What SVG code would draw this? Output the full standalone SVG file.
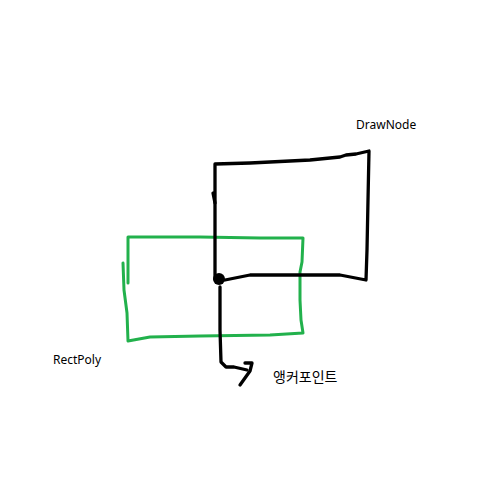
<svg xmlns="http://www.w3.org/2000/svg" width="500" height="500" viewBox="0 0 500 500">
<style>
.blk{fill:none;stroke:#000;stroke-width:3.3;stroke-linecap:round;stroke-linejoin:round}
.grn{fill:none;stroke:#22b14c;stroke-width:3;stroke-linecap:round;stroke-linejoin:round}
.lbl{font-family:"Noto Sans","Open Sans",sans-serif;font-size:12px;fill:#000}
.ko{font-family:"Noto Sans CJK KR",sans-serif;font-size:14px;fill:#000}
</style>
<rect width="500" height="500" fill="#fff"/>
<g id="rectpoly">
<path class="grn" d="M128,283 L128,237 L200,237 L260,238 L303,238 L302,262 L300,272 L300,300 L301,320 L303,333 L270,335 L200,336 L150,337 L128,341 L127,313 L124,290 L123,263"/>
<text class="lbl" x="53" y="364">RectPoly</text>
</g>
<g id="drawnode">
<path class="blk" d="M215,279 L215,164 L250,163 L310,160 L340,157 L346,155 L356,154 L369,151 L368,200 L367,250 L366,280 L340,275 L250,275 L225,280"/>
<path class="blk" d="M213,193 L215,203"/>
<text class="lbl" x="356" y="129">DrawNode</text>
</g>
<g id="anchor">
<circle cx="219" cy="279" r="6" fill="#000"/>
<text class="ko" x="273" y="382">앵커포인트</text>
</g>
<g id="connectors">
<path class="blk" d="M220,287 L220,330 L221,362 L226,367 L234,367 L247,370"/>
<path class="blk" d="M245,363 L252,363 L250,371 L240,385"/>
</g>
</svg>
